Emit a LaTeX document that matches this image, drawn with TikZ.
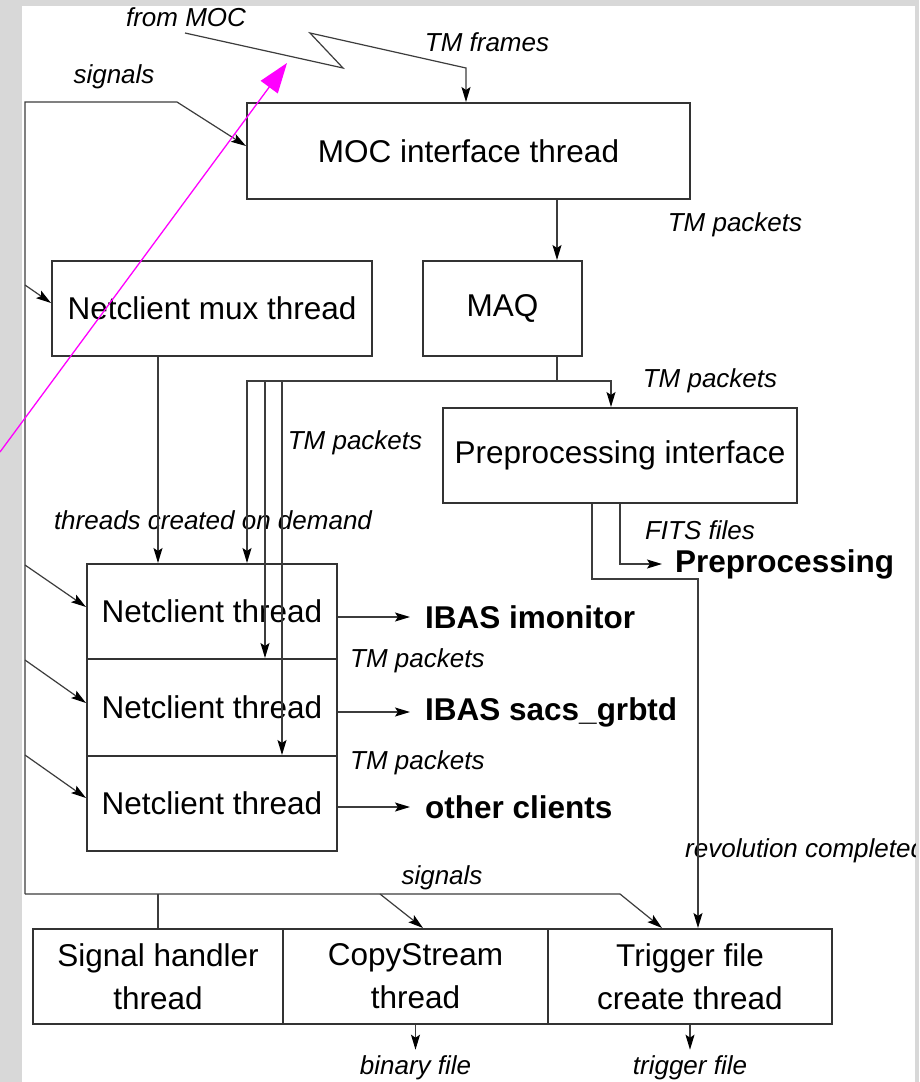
\documentclass[tikz,border=0pt]{standalone}
\usepackage{fontspec}
\setmainfont{Liberation Sans}
\usetikzlibrary{arrows.meta}

\definecolor{bggray}{RGB}{216,216,216}
\definecolor{linegray}{RGB}{60,60,60}
\definecolor{markpink}{RGB}{255,0,255}
\newcommand{\boxfont}{\fontsize{31.5}{43}\selectfont}
\newcommand{\lblfont}{\fontsize{26}{30}\selectfont\itshape}
\newcommand{\outfont}{\fontsize{31.5}{36}\selectfont\bfseries}

\begin{document}
\begin{tikzpicture}[
    x=1pt, y=-1pt,
    >={Stealth[length=15pt,width=9pt,inset=3pt,color=black]},
    box/.style={draw=black!80, line width=2pt, rectangle, inner sep=0pt, align=center, font=\boxfont},
    wire/.style={draw=linegray, line width=1.2pt},
    lbl/.style={font=\lblfont, inner sep=0pt},
    outlbl/.style={font=\outfont, anchor=west, inner xsep=15pt, inner ysep=0pt},
    marker/.style={draw=markpink, line width=1.3pt, -{Triangle[length=30pt,width=21pt]}}
]
    \useasboundingbox (0,0) rectangle (919,1082);

    % Background
    \fill[bggray] (0,0) rectangle (919,1082);
    \fill[white] (22,6) rectangle (915,1082);

    % Threads
    \node[box, minimum width=443pt, minimum height=96pt] (moc) at (468.5,151) {MOC interface thread};
    \node[box, minimum width=320pt, minimum height=95pt] (mux) at (212,308.5) {Netclient mux thread};
    \node[box, minimum width=159pt, minimum height=95pt] (maq) at (502.5,308.5) {MAQ};
    \node[box, minimum width=354pt, minimum height=95pt] (prep) at (620,455.5) {Preprocessing interface};

    \node[box, minimum width=250pt, minimum height=95pt] (nc1) at (212,611.5) {Netclient thread};
    \node[box, minimum width=250pt, minimum height=97pt] (nc2) at (212,707.5) {Netclient thread};
    \node[box, minimum width=250pt, minimum height=95pt] (nc3) at (212,803.5) {Netclient thread};

    \node[box, minimum width=250pt, minimum height=95pt] (sig) at (158,976.5) {Signal handler\\thread};
    \node[box, minimum width=265pt, minimum height=95pt] (copy) at (415.5,976.5) {CopyStream\\thread};
    \node[box, minimum width=284pt, minimum height=95pt] (trig) at (690,976.5) {Trigger file\\create thread};

    % Outputs
    \node[outlbl] (imon) at (410,617) {IBAS imonitor};
    \node[outlbl] (sacs) at (410,712) {IBAS sacs\_grbtd};
    \node[outlbl] (other) at (410,807) {other clients};
    \node[outlbl, inner xsep=13pt] (ppout) at (662,564) {Preprocessing};

    % Labels
    \node[lbl] (fromlbl) at (186,17) {from MOC};
    \node[lbl] (frameslbl) at (487,42) {TM frames};
    \node[lbl] (sigtoplbl) at (114,77) {signals};
    \node[lbl] (maqlbl) at (735,225) {TM packets};
    \node[lbl] (preplbl) at (710,381) {TM packets};
    \node[lbl] (nclbl) at (355,443) {TM packets};
    \node[lbl] (demandlbl) at (213,520) {threads created on demand};
    \node[lbl] (fitslbl) at (700,530) {FITS files};
    \node[lbl, anchor=west] (tm2lbl) at (350,661) {TM packets};
    \node[lbl, anchor=west] (tm3lbl) at (350,763) {TM packets};
    \node[lbl] (sigbotlbl) at (442,878) {signals};
    \node[lbl, inner ysep=6pt] (binlbl) at (415.5,1068) {binary file};
    \node[lbl, inner ysep=6pt] (triglbl) at (690,1068) {trigger file};
    \begin{scope}
        \clip (22,6) rectangle (915,1082);
        \node[lbl, anchor=west] (revlbl) at (685,851) {revolution completed};
    \end{scope}

    % TM frames from MOC
    \coordinate (fm0) at (185,33);
    \coordinate (fm1) at (343,68);
    \coordinate (fm2) at (310,33);
    \coordinate (fm3) at (466,68);
    \draw[wire,->] (fm0) -- (fm1) -- (fm2) -- (fm3) -- (moc.north -| fm3);

    % Signals
    \coordinate (sgtl) at (25,102);
    \coordinate (sgtr) at (177,102);
    \coordinate (sgbl) at (25,894);
    \coordinate (sgbr) at (620,894);
    \coordinate (sgcs) at (380,894);
    \coordinate (sgsh) at (158,894);
    \coordinate (sgm) at (25,285);
    \coordinate (sg1) at (25,565);
    \coordinate (sg2) at (25,660);
    \coordinate (sg3) at (25,755);
    \draw[wire,->] (sgbl) -- (sgtl) -- (sgtr) -- ([yshift=5pt]moc.west);
    \draw[wire,->] (sgbl) -- (sgbr) -- ([xshift=-28pt]trig.north);
    \draw[wire,->] (sgcs) -- ([xshift=7.5pt]copy.north);
    \draw[wire] (sgsh) -- (sig.north);
    \draw[wire,->] (sgm) -- ([yshift=5.5pt]mux.west);
    \draw[wire,->] (sg1) -- ([yshift=4.5pt]nc1.west);
    \draw[wire,->] (sg2) -- ([yshift=4.5pt]nc2.west);
    \draw[wire,->] (sg3) -- ([yshift=5.5pt]nc3.west);

    % TM packets
    \coordinate (mq) at ([xshift=54.5pt]maq.north);
    \draw[wire,->] (mq |- moc.south) -- (mq);
    \coordinate (mqb) at ([xshift=54.5pt]maq.south);
    \coordinate (bus) at (557,381);
    \coordinate (busl) at (247,381);
    \coordinate (busr) at (611,381);
    \coordinate (bus2) at (265,381);
    \coordinate (bus3) at (282,381);
    \draw[wire,->] (mqb) -- (bus) -- (busr) -- (busr |- prep.north);
    \draw[wire,->] (bus) -- (busl) -- (busl |- nc1.north);
    \draw[wire,->] (bus2) -- (bus2 |- nc2.north);
    \draw[wire,->] (bus3) -- (bus3 |- nc3.north);

    \coordinate (mxo) at ([xshift=-54pt]mux.south);
    \draw[wire,->] (mxo) -- (mxo |- nc1.north);

    % Preprocessing outputs
    \draw[wire,->] (prep.south) -- (prep.south |- ppout.west) -- (ppout.west);
    \coordinate (pr2) at ([xshift=-28pt]prep.south);
    \coordinate (rv) at (698,579);
    \draw[wire,->] (pr2) -- (pr2 |- rv) -- (rv) -- (rv |- trig.north);

    % Client outputs
    \draw[wire,->] (imon.west -| nc1.east) -- (imon.west);
    \draw[wire,->] (sacs.west -| nc2.east) -- (sacs.west);
    \draw[wire,->] (other.west -| nc3.east) -- (other.west);

    % Files
    \draw[wire,->] (copy.south) -- (binlbl.north);
    \draw[wire,->] (trig.south) -- (triglbl.north);

    % Marker
    \coordinate (mk0) at (0,452);
    \coordinate (mk1) at (287,63);
    \draw[marker] (mk0) -- (mk1);

\end{tikzpicture}
\end{document}
